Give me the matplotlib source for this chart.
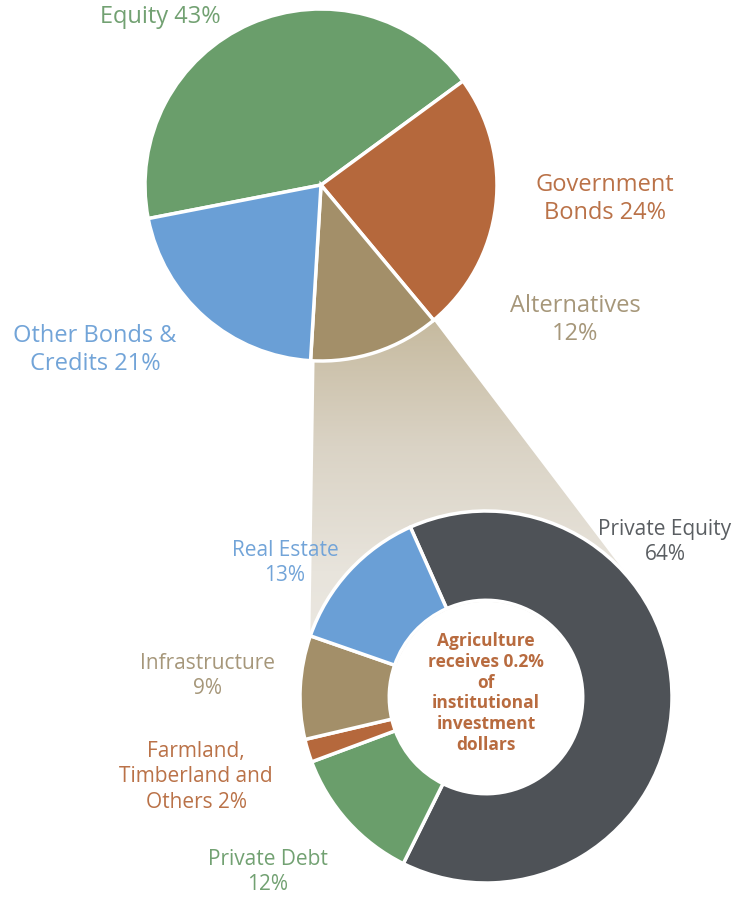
import numpy as np
import matplotlib.pyplot as plt
from matplotlib.patches import Polygon, Circle
from matplotlib.colors import LinearSegmentedColormap

plt.rcParams['font.family'] = ['Open Sans', 'DejaVu Sans']

# overall asset allocation
asset_labels = ['Equity 43%', 'Government\nBonds 24%', 'Alternatives\n12%',
                'Other Bonds &\nCredits 21%']
asset_shares = [43, 24, 12, 21]
asset_colors = ['#6A9E6B', '#B5683C', '#A38F69', '#6A9FD6']
asset_text_colors = ['#72A172', '#BA7248', '#A6977A', '#72A4D8']

# breakdown of alternatives
alt_labels = ['Private Equity\n64%', 'Private Debt\n12%',
              'Farmland,\nTimberland and\nOthers 2%', 'Infrastructure\n9%',
              'Real Estate\n13%']
alt_shares = [64, 12, 2, 9, 13]
alt_colors = ['#4E5257', '#6A9E6B', '#B5683C', '#A38F69', '#6A9FD6']
alt_text_colors = ['#5A5E62', '#72A172', '#BA7248', '#A6977A', '#72A4D8']

center_note = 'Agriculture\nreceives 0.2%\nof\ninstitutional\ninvestment\ndollars'

W, H = 755, 900
fig = plt.figure(figsize=(W / 100, H / 100), dpi=100)
ax = fig.add_axes([0, 0, 1, 1])


def py(y):
    # layout is measured from the top edge
    return H - y


top_c, top_r = (321, py(185)), 176
bot_c, bot_r = (486, py(697)), 186

top_wedges, _ = ax.pie(asset_shares, colors=asset_colors, startangle=191,
                       counterclock=False, center=top_c, radius=top_r,
                       wedgeprops=dict(edgecolor='white', linewidth=2.5))
bot_wedges, _ = ax.pie(alt_shares, colors=alt_colors, startangle=114,
                       counterclock=False, center=bot_c, radius=bot_r,
                       wedgeprops=dict(edgecolor='white', linewidth=2.5,
                                       width=bot_r * 0.48))
for w in list(top_wedges) + list(bot_wedges):
    w.set_zorder(2)

# connector from the alternatives slice down to the breakdown ring
alt = top_wedges[2]
a_lo, a_hi = np.radians(min(alt.theta1, alt.theta2)), np.radians(max(alt.theta1, alt.theta2))
p_left = (top_c[0] + 4 + top_r * np.cos(a_lo), top_c[1] + top_r * np.sin(a_lo))
p_right = (top_c[0] + top_r * np.cos(a_hi), top_c[1] + top_r * np.sin(a_hi))

dx, dy = p_right[0] - bot_c[0], p_right[1] - bot_c[1]
phi = np.arctan2(dy, dx) - np.arccos(bot_r / np.hypot(dx, dy))
t_right = (bot_c[0] + bot_r * np.cos(phi), bot_c[1] + bot_r * np.sin(phi))
re = bot_wedges[4]
b = np.radians(max(re.theta1, re.theta2) % 360)
t_left = (bot_c[0] + bot_r * np.cos(b), bot_c[1] + bot_r * np.sin(b))

poly = Polygon([p_right, t_right, bot_c, t_left, p_left], closed=True,
               facecolor='none', edgecolor='none')
ax.add_patch(poly)
xs = [p_right[0], t_right[0], bot_c[0], t_left[0], p_left[0]]
ys = [p_right[1], t_right[1], bot_c[1], t_left[1], p_left[1]]
grad = LinearSegmentedColormap.from_list(
    'fade', ['#EDEAE4', '#E8E4DC', '#DAD3C5', '#C6BA9F'])
img = ax.imshow(np.linspace(0, 1, 256).reshape(-1, 1), cmap=grad, origin='lower',
                extent=[min(xs), max(xs), min(ys), max(ys)], aspect='auto',
                interpolation='bilinear', zorder=0)
img.set_clip_path(poly)

ax.add_patch(Circle(bot_c, bot_r * 0.52 - 1.5, facecolor='white',
                    edgecolor='none', zorder=3))

# labels
top_pos = [(160, 17), (605, 199), (575, 320), (95, 350)]
for (x, y), lab, col in zip(top_pos, asset_labels, asset_text_colors):
    ax.text(x, py(y), lab, color=col, fontsize=17, ha='center', va='center',
            linespacing=1.25)

bot_pos = [(665, 542), (268, 872), (196, 777), (207, 676), (285, 563)]
for (x, y), lab, col in zip(bot_pos, alt_labels, alt_text_colors):
    ax.text(x, py(y), lab, color=col, fontsize=15, ha='center', va='center',
            linespacing=1.3)

ax.text(bot_c[0], bot_c[1] + 4, center_note, color='#B86B3F', fontsize=12.5,
        fontweight='bold', ha='center', va='center', linespacing=1.2, zorder=4)

ax.set_xlim(0, W)
ax.set_ylim(0, H)
ax.set_aspect('equal')
ax.axis('off')

fig.savefig('out.png', dpi=100, facecolor='white')
